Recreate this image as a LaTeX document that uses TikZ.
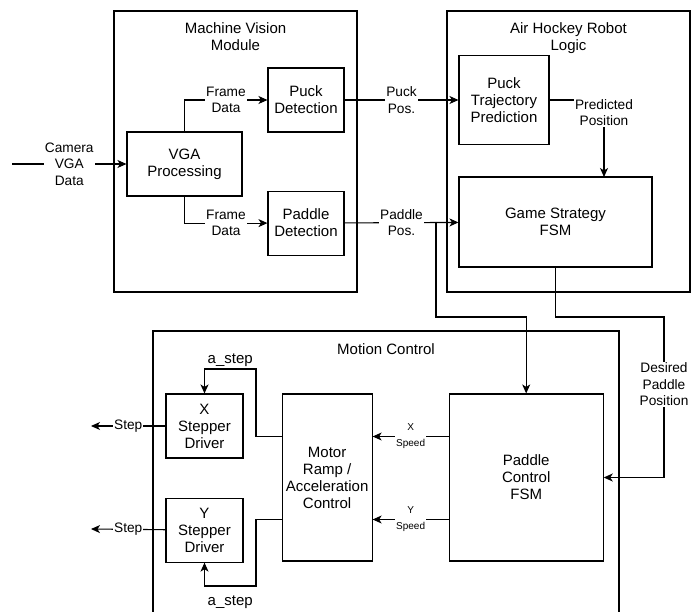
\documentclass[tikz,border=0pt]{standalone}
\usepackage{fontspec}
\setmainfont{Liberation Sans}
\usetikzlibrary{arrows.meta, positioning}

\begin{document}
\begin{tikzpicture}[
    x=1pt, y=1pt, line width=1.1pt,
    grp/.style={rectangle, draw},
    blk/.style={rectangle, draw, align=center, inner sep=1pt, font={\fontsize{15}{17}\selectfont}},
    ttl/.style={align=center, inner sep=2pt, font={\fontsize{15}{17}\selectfont}},
    sig/.style={fill=white, align=center, inner sep=1pt, font={\fontsize{13.7}{16.5}\selectfont}},
    sml/.style={fill=white, align=center, inner sep=1pt, font={\fontsize{10}{16}\selectfont}},
    >={Stealth[length=9pt, width=8pt, inset=2.5pt]}
]
\useasboundingbox (0,0) rectangle (691,611);

\node[grp, minimum width=243pt, minimum height=281pt] (mvm) at (235.5,459.5) {};
\node[ttl, below=10pt of mvm.north] (mvmtitle) {Machine Vision\\Module};
\node[grp, minimum width=243pt, minimum height=281pt] (ahr) at (568.5,459.5) {};
\node[ttl, below=10pt of ahr.north] (ahrtitle) {Air Hockey Robot\\Logic};
\node[grp, minimum width=466pt, minimum height=309pt] (mc) at (386,125.5) {};
\node[ttl, below=11pt of mc.north] (mctitle) {Motion Control};

\node[blk, minimum width=115pt, minimum height=64pt] (vga) at (184.5,447) {VGA\\Processing};
\node[blk, minimum width=76pt, minimum height=64pt] (puckdet) at (306,511) {Puck\\Detection};
\node[blk, minimum width=76pt, minimum height=64pt, below=58pt of puckdet] (paddet) {Paddle\\Detection};
\node[blk, minimum width=90pt, minimum height=89pt] (traj) at (504,511) {Puck\\Trajectory\\Prediction};
\node[blk, minimum width=193pt, minimum height=90pt] (strat) at (555.5,389) {Game Strategy\\FSM};

\node[blk, minimum width=77pt, minimum height=64pt] (xdrv) at (204.5,185) {X\\Stepper\\Driver};
\node[blk, minimum width=77pt, minimum height=64pt, below=39pt of xdrv] (ydrv) {Y\\Stepper\\Driver};
\node[blk, minimum width=90pt, minimum height=167pt, right=38pt of xdrv.north east, anchor=north west] (ramp) {Motor\\Ramp /\\Acceleration\\Control};
\node[blk, minimum width=154pt, minimum height=167pt, right=76pt of ramp] (pfsm) {Paddle\\Control\\FSM};

\coordinate (camin) at (12,447);
\coordinate (predin) at (604,434);
\coordinate (ppbranch) at (436,389);
\coordinate (ppturn) at (436,294);
\coordinate (dpturn) at (664,294);
\coordinate (xstepturn) at (256,242);
\coordinate (ystepturn) at (256,25);
\coordinate (xout) at (91,185);
\coordinate (yout) at (91,82);

\draw[->] (camin) -- node[sig] {Camera\\VGA\\Data} (vga);
\draw[->] (vga.north) |- node[sig, pos=0.75] {Frame\\Data} (puckdet);
\draw[->] (vga.south) |- node[sig, pos=0.75] {Frame\\Data} (paddet);
\draw[->] (puckdet) -- node[sig] {Puck\\Pos.} (traj);
\draw[->] (paddet) -- node[sig] {Paddle\\Pos.} (strat);
\draw[->] (traj) -| node[sig, pos=0.5, anchor=north, yshift=2pt] {Predicted\\Position} (predin);

\draw[->] (ppbranch) -- (ppturn) -| (pfsm);
\draw[->] (strat) |- (dpturn) |- node[sig, pos=0.21] {Desired\\Paddle\\Position} (pfsm);

\draw[->] ([yshift=41pt]pfsm.west) -- node[sml] {X\\Speed} ([yshift=41pt]ramp.east);
\draw[->] ([yshift=-42pt]pfsm.west) -- node[sml] {Y\\Speed} ([yshift=-42pt]ramp.east);
\draw[->] ([yshift=41pt]ramp.west) -| (xstepturn) -| node[ttl, pos=0.25, above] {a\_step} (xdrv);
\draw[->] ([yshift=-42pt]ramp.west) -| (ystepturn) -| node[ttl, pos=0.25, below=7pt] {a\_step} (ydrv);
\draw[->] (xdrv) -- node[sig] {Step} (xout);
\draw[->] (ydrv) -- node[sig] {Step} (yout);
\end{tikzpicture}
\end{document}
